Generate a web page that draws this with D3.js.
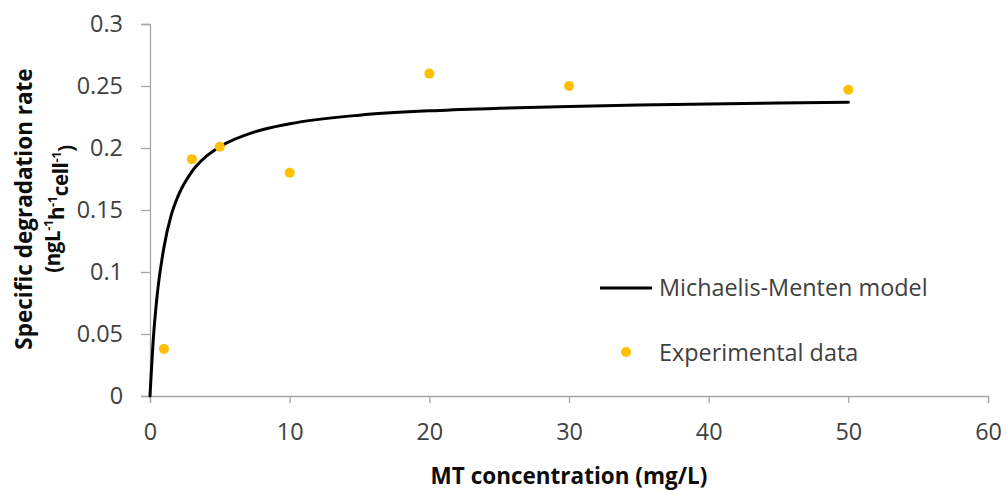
<!DOCTYPE html>
<html>
<head>
<meta charset="utf-8">
<script src="https://cdn.jsdelivr.net/npm/d3@7"></script>
<style>
  html, body { margin: 0; padding: 0; background: #fff; }
  svg { display: block; }
  .tick text { font-family: "Open Sans", sans-serif; fill: #404040; }
</style>
</head>
<body>
<svg id="chart" width="1006" height="490"></svg>
<script>
// Measured specific degradation rate at each MT concentration
const concentrations = [1, 3, 5, 10, 20, 30, 50];
const rates = [0.038, 0.191, 0.201, 0.180, 0.260, 0.250, 0.247];

// Fitted Michaelis-Menten curve, sampled points
const modelConc = [0, 0.25, 0.5, 1, 1.5, 2, 3, 4, 5, 7.5, 10, 15, 20, 25, 30, 35, 40, 45, 50];
const modelRate = [0, 0.048, 0.080, 0.120, 0.145, 0.161, 0.181, 0.193, 0.201, 0.213, 0.2195, 0.2265, 0.230, 0.232, 0.2335, 0.2347, 0.2355, 0.2362, 0.2368];

const xTicks = [0, 10, 20, 30, 40, 50, 60];
const yTicks = [0, 0.05, 0.1, 0.15, 0.2, 0.25, 0.3];

const svg = d3.select("#chart");
const fontFam = '"Open Sans", sans-serif';
const axisColor = "#a6a6a6";
const gold = "#ffc000";
const labelSize = 23.4;

const x = d3.scaleLinear().domain([0, 60]).range([150, 988]);
const y = d3.scaleLinear().domain([0, 0.3]).range([396, 24]);

// Axes
const xAxis = svg.append("g")
  .attr("transform", `translate(0,${y(0)})`)
  .call(d3.axisBottom(x).tickValues(xTicks).tickFormat(d3.format("d")).tickSizeOuter(0).tickSize(7));
const yAxis = svg.append("g")
  .attr("transform", `translate(${x(0)},0)`)
  .call(d3.axisLeft(y).tickValues(yTicks).tickFormat(d => d === 0 ? "0" : String(+d.toFixed(2))).tickSizeOuter(0).tickSize(9).tickPadding(18));

[xAxis, yAxis].forEach(g => {
  g.select(".domain").attr("stroke", axisColor).attr("stroke-width", 1.3);
  g.selectAll(".tick line").attr("stroke", axisColor).attr("stroke-width", 1.3);
  g.selectAll(".tick text").attr("font-size", labelSize);
});
xAxis.selectAll(".tick text").attr("dy", "0.35em").attr("y", 36);

// Model curve
const line = d3.line()
  .x((d, i) => x(modelConc[i]))
  .y((d, i) => y(modelRate[i]))
  .curve(d3.curveMonotoneX);
svg.append("path")
  .datum(modelRate)
  .attr("d", line)
  .attr("fill", "none")
  .attr("stroke", "#000")
  .attr("stroke-width", 3)
  .attr("stroke-linecap", "round");

// Experimental points
svg.append("g")
  .selectAll("circle")
  .data(concentrations)
  .join("circle")
  .attr("cx", d => x(d))
  .attr("cy", (d, i) => y(rates[i]))
  .attr("r", 5)
  .attr("fill", gold);

// Legend
const legend = svg.append("g").attr("font-family", fontFam).attr("font-size", labelSize).attr("fill", "#404040");
legend.append("line")
  .attr("x1", 600).attr("x2", 652).attr("y1", 288).attr("y2", 288)
  .attr("stroke", "#000").attr("stroke-width", 3);
legend.append("text").attr("x", 659).attr("y", 288).attr("dy", "0.35em").text("Michaelis-Menten model");
legend.append("circle").attr("cx", 626).attr("cy", 352).attr("r", 5).attr("fill", gold);
legend.append("text").attr("x", 659).attr("y", 353).attr("dy", "0.35em").text("Experimental data");

// Axis titles
svg.append("text")
  .attr("x", 569).attr("y", 476).attr("dy", "0.35em")
  .attr("text-anchor", "middle")
  .attr("font-family", fontFam).attr("font-size", 22.5).attr("font-weight", "bold").attr("fill", "#0d0d0d")
  .text("MT concentration (mg/L)");

const yTitle = svg.append("g")
  .attr("font-family", fontFam).attr("font-weight", "bold").attr("fill", "#0d0d0d");
yTitle.append("text")
  .attr("transform", "translate(24,209) rotate(-90)")
  .attr("text-anchor", "middle").attr("dy", "0.35em")
  .attr("font-size", 22.5)
  .text("Specific degradation rate");
const t2 = yTitle.append("text")
  .attr("transform", "translate(53,209) rotate(-90)")
  .attr("text-anchor", "middle").attr("dy", "0.35em")
  .attr("font-size", 20.5).attr("letter-spacing", -0.4);
t2.append("tspan").text("(ngL");
t2.append("tspan").attr("font-size", 13).attr("dy", "-0.55em").text("-1");
t2.append("tspan").attr("dy", "0.55em").text("h");
t2.append("tspan").attr("font-size", 13).attr("dy", "-0.55em").text("-1");
t2.append("tspan").attr("dy", "0.55em").text("cell");
t2.append("tspan").attr("font-size", 13).attr("dy", "-0.55em").text("-1");
t2.append("tspan").attr("dy", "0.55em").text(")");
</script>
</body>
</html>
